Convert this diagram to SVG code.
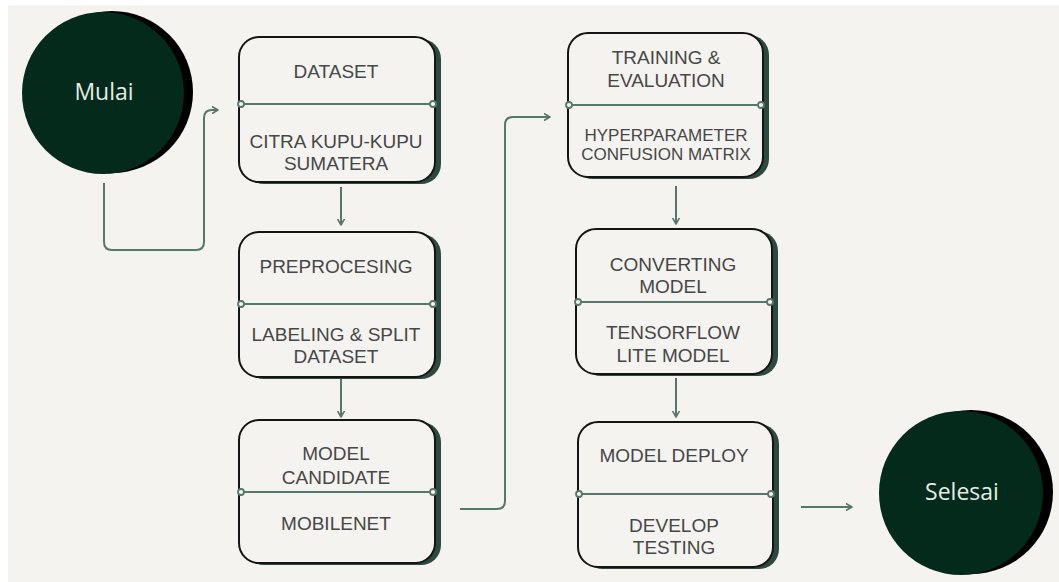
<svg xmlns="http://www.w3.org/2000/svg" width="1059" height="582" viewBox="0 0 1059 582">
  <defs>
    <marker id="arr" viewBox="0 0 10 10" refX="8" refY="5" markerWidth="4" markerHeight="4" orient="auto" markerUnits="strokeWidth">
      <path d="M1,1 L8,5 L1,9" fill="none" stroke="#56786c" stroke-width="2" stroke-linecap="round" stroke-linejoin="round"/>
    </marker>
  </defs>
  <style>
    .bg { fill: #f4f3ef; }
    .circ { fill: #032a1b; }
    .circshadow { fill: #000000; }
    .box { fill: #f4f3ef; stroke: #141414; stroke-width: 2; }
    .boxshadow { fill: #2d4a40; }
    .div { stroke: #56786c; stroke-width: 2.2; fill: none; }
    .dot { fill: #f4f3ef; stroke: #56786c; stroke-width: 1.8; }
    .t { font-family: "Liberation Sans", Arial, sans-serif; font-size: 19px; fill: #474747; text-anchor: middle; }
    .ts { font-size: 17px; }
    .ct { font-family: "Open Sans", "Liberation Sans", sans-serif; font-size: 23px; fill: #e6ece8; text-anchor: middle; }
    .conn { stroke: #56786c; stroke-width: 2; fill: none; marker-end: url(#arr); }
  </style>
  <rect x="0" y="0" width="1059" height="582" fill="#ffffff"/>
  <rect class="bg" x="8" y="5" width="1051" height="577"/>

  <g id="connectors">
    <path class="conn" d="M104,183 V242 Q104,250 112,250 H196 Q204,250 204,242 V118 Q204,110 212,110 H218"/>
    <path class="conn" d="M341,187 V225"/>
    <path class="conn" d="M341,378 V417"/>
    <path class="conn" d="M460,509 H497 Q505,509 505,501 V125 Q505,117 513,117 H550"/>
    <path class="conn" d="M676,186 V224"/>
    <path class="conn" d="M676,378 V417"/>
    <path class="conn" d="M801,507 H852"/>
  </g>

  <g id="mulai">
    <circle class="circshadow" cx="112" cy="92" r="81"/>
    <circle class="circ" cx="103" cy="93" r="81"/>
    <text class="ct" x="104" y="100">Mulai</text>
  </g>

  <g id="dataset">
    <rect class="boxshadow" x="244" y="39" width="197" height="145" rx="20"/>
    <rect class="box" x="239" y="37" width="196" height="145" rx="20"/>
    <line class="div" x1="241" y1="104" x2="433" y2="104"/>
    <circle class="dot" cx="241" cy="104" r="3"/>
    <circle class="dot" cx="433" cy="104" r="3"/>
    <text class="t" x="336" y="78">DATASET</text>
    <text class="t" x="336" y="148">CITRA KUPU-KUPU</text>
    <text class="t" x="336" y="170">SUMATERA</text>
  </g>

  <g id="preprocesing">
    <rect class="boxshadow" x="244" y="234" width="197" height="145" rx="20"/>
    <rect class="box" x="239" y="232" width="196" height="145" rx="20"/>
    <line class="div" x1="241" y1="304" x2="433" y2="304"/>
    <circle class="dot" cx="241" cy="304" r="3"/>
    <circle class="dot" cx="433" cy="304" r="3"/>
    <text class="t" x="336" y="273">PREPROCESING</text>
    <text class="t" x="336" y="341">LABELING &amp; SPLIT</text>
    <text class="t" x="336" y="363">DATASET</text>
  </g>

  <g id="model-candidate">
    <rect class="boxshadow" x="244" y="422" width="197" height="143" rx="20"/>
    <rect class="box" x="239" y="420" width="196" height="143" rx="20"/>
    <line class="div" x1="241" y1="492" x2="433" y2="492"/>
    <circle class="dot" cx="241" cy="492" r="3"/>
    <circle class="dot" cx="433" cy="492" r="3"/>
    <text class="t" x="336" y="460">MODEL</text>
    <text class="t" x="336" y="484">CANDIDATE</text>
    <text class="t" x="336" y="530">MOBILENET</text>
  </g>

  <g id="training">
    <rect class="boxshadow" x="573" y="35" width="196" height="144" rx="20"/>
    <rect class="box" x="568" y="33" width="195" height="144" rx="20"/>
    <line class="div" x1="569" y1="105" x2="761" y2="105"/>
    <circle class="dot" cx="569" cy="105" r="3"/>
    <circle class="dot" cx="761" cy="105" r="3"/>
    <text class="t" x="666" y="64">TRAINING &amp;</text>
    <text class="t" x="666" y="87">EVALUATION</text>
    <text class="t ts" x="666" y="141">HYPERPARAMETER</text>
    <text class="t ts" x="666" y="160">CONFUSION MATRIX</text>
  </g>

  <g id="converting">
    <rect class="boxshadow" x="581" y="231" width="197" height="145" rx="20"/>
    <rect class="box" x="576" y="229" width="196" height="145" rx="20"/>
    <line class="div" x1="578" y1="302" x2="770" y2="302"/>
    <circle class="dot" cx="578" cy="302" r="3"/>
    <circle class="dot" cx="770" cy="302" r="3"/>
    <text class="t" x="673" y="271">CONVERTING</text>
    <text class="t" x="673" y="293">MODEL</text>
    <text class="t" x="673" y="339">TENSORFLOW</text>
    <text class="t" x="673" y="362">LITE MODEL</text>
  </g>

  <g id="model-deploy">
    <rect class="boxshadow" x="583" y="424" width="196" height="145" rx="20"/>
    <rect class="box" x="578" y="422" width="195" height="145" rx="20"/>
    <line class="div" x1="579" y1="494" x2="771" y2="494"/>
    <circle class="dot" cx="579" cy="494" r="3"/>
    <circle class="dot" cx="771" cy="494" r="3"/>
    <text class="t" x="674" y="462">MODEL DEPLOY</text>
    <text class="t" x="674" y="532">DEVELOP</text>
    <text class="t" x="674" y="554">TESTING</text>
  </g>

  <g id="selesai">
    <circle class="circshadow" cx="971" cy="492" r="82"/>
    <circle class="circ" cx="961" cy="493" r="82"/>
    <text class="ct" x="962" y="500">Selesai</text>
  </g>
</svg>
